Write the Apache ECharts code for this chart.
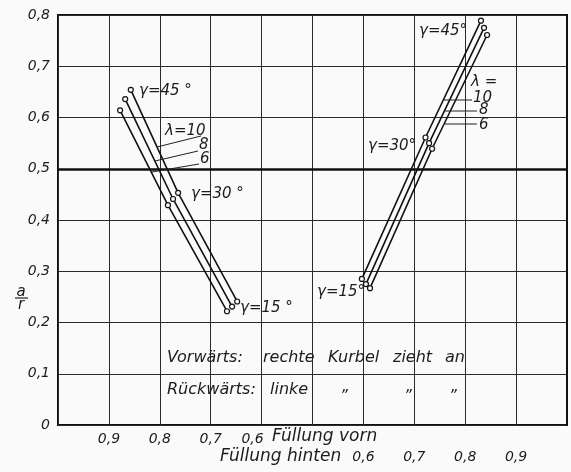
<!DOCTYPE html>
<html><head><meta charset="utf-8">
<script src="https://cdn.jsdelivr.net/npm/echarts@6/dist/echarts.min.js"></script>
<style>html,body{margin:0;padding:0;background:#fafafa}#c{width:571px;height:472px}</style>
</head><body><div id="c"></div>
<script>
// ---- data ----
const gammaDeg = [45, 30, 15];
const lambdaVals = [10, 8, 6];
// Vorwärts group: Füllung vorn vs a/r
const vorn_l10 = [0.857, 0.764, 0.648];
const ar_vorn_l10 = [0.654, 0.453, 0.241];
const vorn_l8 = [0.868, 0.774, 0.658];
const ar_vorn_l8 = [0.636, 0.441, 0.231];
const vorn_l6 = [0.878, 0.784, 0.668];
const ar_vorn_l6 = [0.614, 0.429, 0.222];
// Rückwärts group: Füllung hinten vs a/r
const hinten_l10 = [0.831, 0.722, 0.597];
const ar_hinten_l10 = [0.789, 0.561, 0.285];
const hinten_l8 = [0.837, 0.729, 0.605];
const ar_hinten_l8 = [0.775, 0.550, 0.275];
const hinten_l6 = [0.843, 0.735, 0.613];
const ar_hinten_l6 = [0.761, 0.539, 0.267];
// tick labels
const vornTicks = [0.9, 0.8, 0.7, 0.6];
const hintenTicks = [0.6, 0.7, 0.8, 0.9];
const yTicks = [0, 0.1, 0.2, 0.3, 0.4, 0.5, 0.6, 0.7, 0.8];
const heavyLine = 0.5;

// ---- chart ----
const FONT = '"DejaVu Sans"';
const INK = '#1c1c1c';
const fmt = v => (Math.round(v * 10) / 10).toString().replace('.', ',');
const isIn = (arr, v) => arr.some(t => Math.abs(t - v) < 1e-6);
const pair = (xs, ys) => xs.map((x, i) => [x, ys[i]]);

function curve(name, xs, ys, axisIdx, extra) {
  return Object.assign({
    name: name, type: 'line', xAxisIndex: axisIdx, data: pair(xs, ys),
    symbol: 'circle', symbolSize: 5, showSymbol: true,
    itemStyle: { color: '#fafafa', borderColor: '#111', borderWidth: 1.2 },
    lineStyle: { color: '#111', width: 1.6 }, z: 5, silent: true
  }, extra || {});
}

const labelStyle = { fontFamily: FONT, fontStyle: 'italic', fontSize: 14, color: INK };

function t(text, x, y, size) {
  return { type: 'text', z: 20, style: { text: text, x: x, y: y, font: 'italic ' + (size || 15) + 'px ' + FONT, fill: INK, align: 'left', verticalAlign: 'middle' } };
}
function ln(x1, y1, x2, y2, w) {
  return { type: 'line', z: 20, shape: { x1: x1, y1: y1, x2: x2, y2: y2 }, style: { stroke: '#222', lineWidth: w || 1 } };
}

const chart = echarts.init(document.getElementById('c'));
chart.setOption({
  backgroundColor: '#fafafa',
  animation: false,
  grid: { left: 58, right: 4, top: 15, bottom: 47, show: true, borderColor: '#111', borderWidth: 2, outerBoundsMode: 'none' },
  xAxis: [
    { type: 'value', min: 0, max: 1, interval: 0.1, inverse: true, position: 'bottom',
      axisLine: { show: false }, axisTick: { show: false }, splitLine: { show: false },
      axisLabel: Object.assign({ margin: 7, hideOverlap: false,
        formatter: v => isIn(vornTicks, v) ? (Math.abs(v - 0.6) < 1e-6 ? '{s|' + fmt(v) + '}' : fmt(v)) : '',
        rich: { s: Object.assign({ padding: [0, 18, 0, 0] }, labelStyle) } }, labelStyle) },
    { type: 'value', min: 0, max: 1, interval: 0.1, position: 'bottom', offset: 18,
      axisLine: { show: false }, axisTick: { show: false },
      splitLine: { show: true, lineStyle: { color: '#2a2a2a', width: 1 } },
      axisLabel: Object.assign({ margin: 7, hideOverlap: false,
        formatter: v => isIn(hintenTicks, v) ? fmt(v) : '' }, labelStyle) }
  ],
  yAxis: { type: 'value', min: 0, max: 0.8, interval: 0.1,
    axisLine: { show: true, lineStyle: { color: '#111', width: 2 } }, axisTick: { show: false },
    splitLine: { show: true, lineStyle: { color: '#2a2a2a', width: 1 } },
    axisLabel: Object.assign({ margin: 8, formatter: v => isIn(yTicks, v) ? fmt(v) : '' }, labelStyle) },
  series: [
    curve('vorn λ=10', vorn_l10, ar_vorn_l10, 0, {
      markLine: { silent: true, symbol: 'none', label: { show: false },
        lineStyle: { color: '#111', width: 2.5, type: 'solid' }, data: [{ yAxis: heavyLine }] } }),
    curve('vorn λ=8', vorn_l8, ar_vorn_l8, 0),
    curve('vorn λ=6', vorn_l6, ar_vorn_l6, 0),
    curve('hinten λ=10', hinten_l10, ar_hinten_l10, 1),
    curve('hinten λ=8', hinten_l8, ar_hinten_l8, 1),
    curve('hinten λ=6', hinten_l6, ar_hinten_l6, 1)
  ],
  graphic: [
    // left group labels
    t('γ=' + gammaDeg[0] + ' °', 139, 91),
    t('λ=' + lambdaVals[0], 165, 131),
    t(String(lambdaVals[1]), 199, 145),
    t(String(lambdaVals[2]), 200, 159),
    ln(157, 147, 201, 136), ln(155, 161, 198, 151), ln(152, 172, 199, 164),
    t('γ=' + gammaDeg[1] + ' °', 191, 194),
    t('γ=' + gammaDeg[2] + ' °', 240, 308),
    // right group labels
    t('γ=' + gammaDeg[0] + '°', 419, 31),
    t('λ =', 471, 82),
    t(String(lambdaVals[0]), 473, 98),
    t(String(lambdaVals[1]), 479, 110),
    t(String(lambdaVals[2]), 479, 125),
    ln(444, 100, 472, 100), ln(445, 111, 477, 111), ln(445, 124, 477, 124),
    t('γ=' + gammaDeg[1] + '°', 368, 146),
    t('γ=' + gammaDeg[2] + '°', 317, 292),
    // notes
    t('Vorwärts:', 167, 358, 16), t('rechte', 263, 358, 16), t('Kurbel', 328, 358, 16),
    t('zieht', 393, 358, 16), t('an', 445, 358, 16),
    t('Rückwärts:', 167, 390, 16), t('linke', 270, 390, 16),
    t('\u201D', 340, 397, 15), t('\u201D', 404, 397, 15), t('\u201D', 449, 397, 15),
    // axis titles
    t('Füllung vorn', 272, 437, 17),
    t('Füllung hinten', 220, 457, 17),
    { type: 'text', z: 20, style: { text: 'a', x: 21, y: 292, font: 'italic 15px ' + FONT, fill: INK, align: 'center', verticalAlign: 'middle' } },
    ln(15, 298, 28, 298, 1.2),
    { type: 'text', z: 20, style: { text: 'r', x: 21, y: 305, font: 'italic 15px ' + FONT, fill: INK, align: 'center', verticalAlign: 'middle' } }
  ]
});
</script>
</body></html>
